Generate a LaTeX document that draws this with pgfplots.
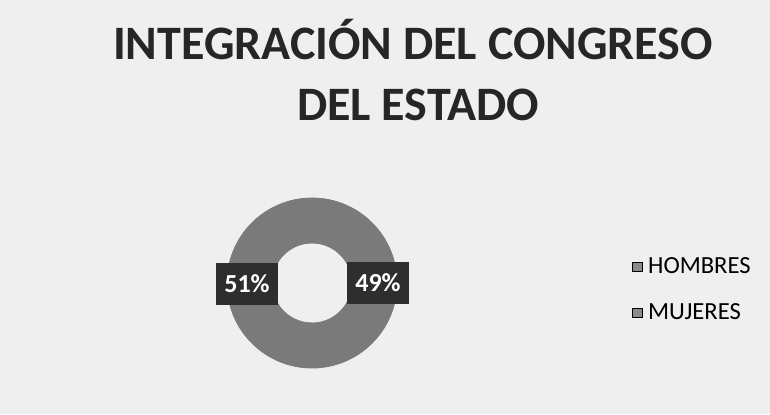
\documentclass[border=0pt]{standalone}
\usepackage{pgfplots}
\pgfplotsset{compat=1.18}
\usepackage{pgfplotstable}
\usepackage{fontspec}
\setmainfont{Carlito}

\definecolor{fondo}{HTML}{EFEFEF}
\definecolor{anillo}{HTML}{7A7A7A}
\definecolor{caja}{HTML}{2E2E2E}
\definecolor{leyenda}{HTML}{8A8A8A}

% porcentajes del grafico
\pgfplotstableread{
grupo value
HOMBRES 49
MUJERES 51
}\datos

\begin{document}
\begin{tikzpicture}
\pgfplotstablegetelem{0}{value}\of\datos
\pgfmathsetmacro{\aone}{90-\pgfplotsretval*3.6}
\pgfmathsetmacro{\atwo}{\aone-(100-\pgfplotsretval)*3.6}
\def\R{42.5pt}
\def\r{20pt}
\fill[fondo] (0,0) rectangle (385pt,207pt);
\begin{axis}[
  x=0.5pt, y=0.5pt, scale only axis,
  xmin=0, xmax=770, ymin=0, ymax=414, y dir=reverse,
  hide axis, clip=false,
  legend image code/.code={\fill[#1] (0pt,-2.4pt) rectangle (5pt,2.4pt);},
  legend style={draw=none, fill=none, at={(axis cs:632,254)}, anchor=north west,
    font=\fontsize{12.3}{12.3}\selectfont, row sep=10.5pt, inner sep=0pt,
    nodes={inner sep=1.5pt}},
  legend cell align=left,
]
\addlegendimage{fill=leyenda}
\addlegendentry{\hspace{1pt}HOMBRES}
\addlegendimage{fill=leyenda}
\addlegendentry{\hspace{1pt}MUJERES}

\filldraw[anillo, line width=0.4pt] (axis cs:312,283) ++(90:\R) arc[start angle=90, end angle=\aone, radius=\R]
  -- ++({\aone+180}:22.5pt) arc[start angle=\aone, end angle=90, radius=\r] -- cycle;
\filldraw[anillo, line width=0.4pt] (axis cs:312,283) ++(\aone:\R) arc[start angle=\aone, end angle=\atwo, radius=\R]
  -- ++({\atwo+180}:22.5pt) arc[start angle=\atwo, end angle=\aone, radius=\r] -- cycle;

\node[fill=caja, text=white, font=\bfseries\fontsize{13}{13}\selectfont,
  minimum width=31pt, minimum height=21pt, inner sep=0pt] at (axis cs:247,284) {51\%};
\node[fill=caja, text=white, font=\bfseries\fontsize{13}{13}\selectfont,
  minimum width=31pt, minimum height=21pt, inner sep=0pt] at (axis cs:378,283) {49\%};

\node[anchor=base, font=\bfseries\fontsize{24}{28}\selectfont, text=black!85, inner sep=0pt]
  at (axis cs:413,59) {INTEGRACIÓN DEL CONGRESO};
\node[anchor=base, font=\bfseries\fontsize{24}{28}\selectfont, text=black!85, inner sep=0pt]
  at (axis cs:418,120) {DEL ESTADO};
\end{axis}
\end{tikzpicture}
\end{document}
